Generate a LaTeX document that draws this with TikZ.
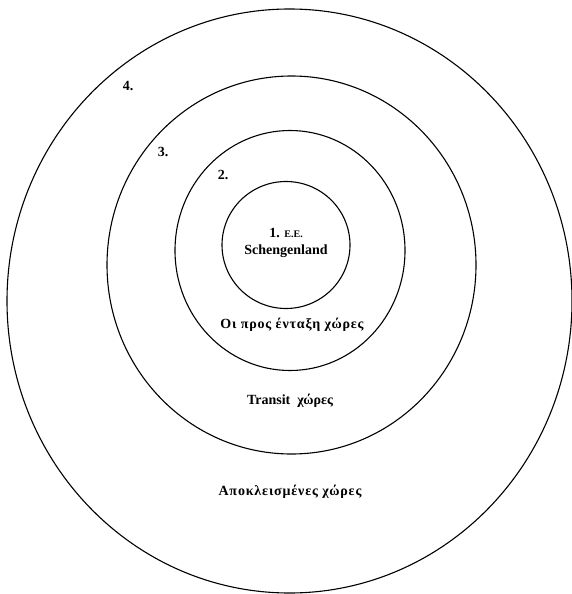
\documentclass[tikz,border=0pt]{standalone}
\usepackage{fontspec}
\setmainfont{Liberation Serif}
\newfontfamily\widegreek[LetterSpace=6]{Liberation Serif}
\usepackage{tikz}
\usetikzlibrary{positioning}

\begin{document}
\begin{tikzpicture}[
    x=1pt, y=-1pt,
    ring/.style={draw, line width=1.1pt},
    lbl/.style={font=\fontsize{14}{16}\selectfont\bfseries, inner sep=0pt, align=center},
    glbl/.style={font=\widegreek\fontsize{14}{16}\selectfont\bfseries, inner sep=0pt, align=center},
    num/.style={font=\fontsize{14}{16}\selectfont\bfseries, inner sep=0pt}
]
    \useasboundingbox (0,0) rectangle (572,594);

    % Rings, outermost first
    \draw[ring] (289.5,301) ellipse [x radius=282.5, y radius=292];
    \draw[ring] (291.5,265) ellipse [x radius=184.5, y radius=189];
    \draw[ring] (290,250.5) ellipse [x radius=115, y radius=120];
    \draw[ring] (286,245) ellipse [x radius=64, y radius=63.5];

    % Numbers
    \node[num] (n4) at (128,86) {4.};
    \node[num] (n3) at (163,152) {3.};
    \node[num] (n2) at (223,175) {2.};

    % Labels
    \node[lbl] (eu) at (286,233) {1. {\fontsize{10}{12}\selectfont E.E.}};
    \node[lbl, below=7pt of eu] (schengen) {Schengenland};
    \node[glbl] (accession) at (292,325) {Οι προς ένταξη χώρες};
    \node[lbl] (transit) at (290,401) {Transit\ \ χώρες};
    \node[glbl] (excluded) at (290,492) {Αποκλεισμένες χώρες};

\end{tikzpicture}
\end{document}
